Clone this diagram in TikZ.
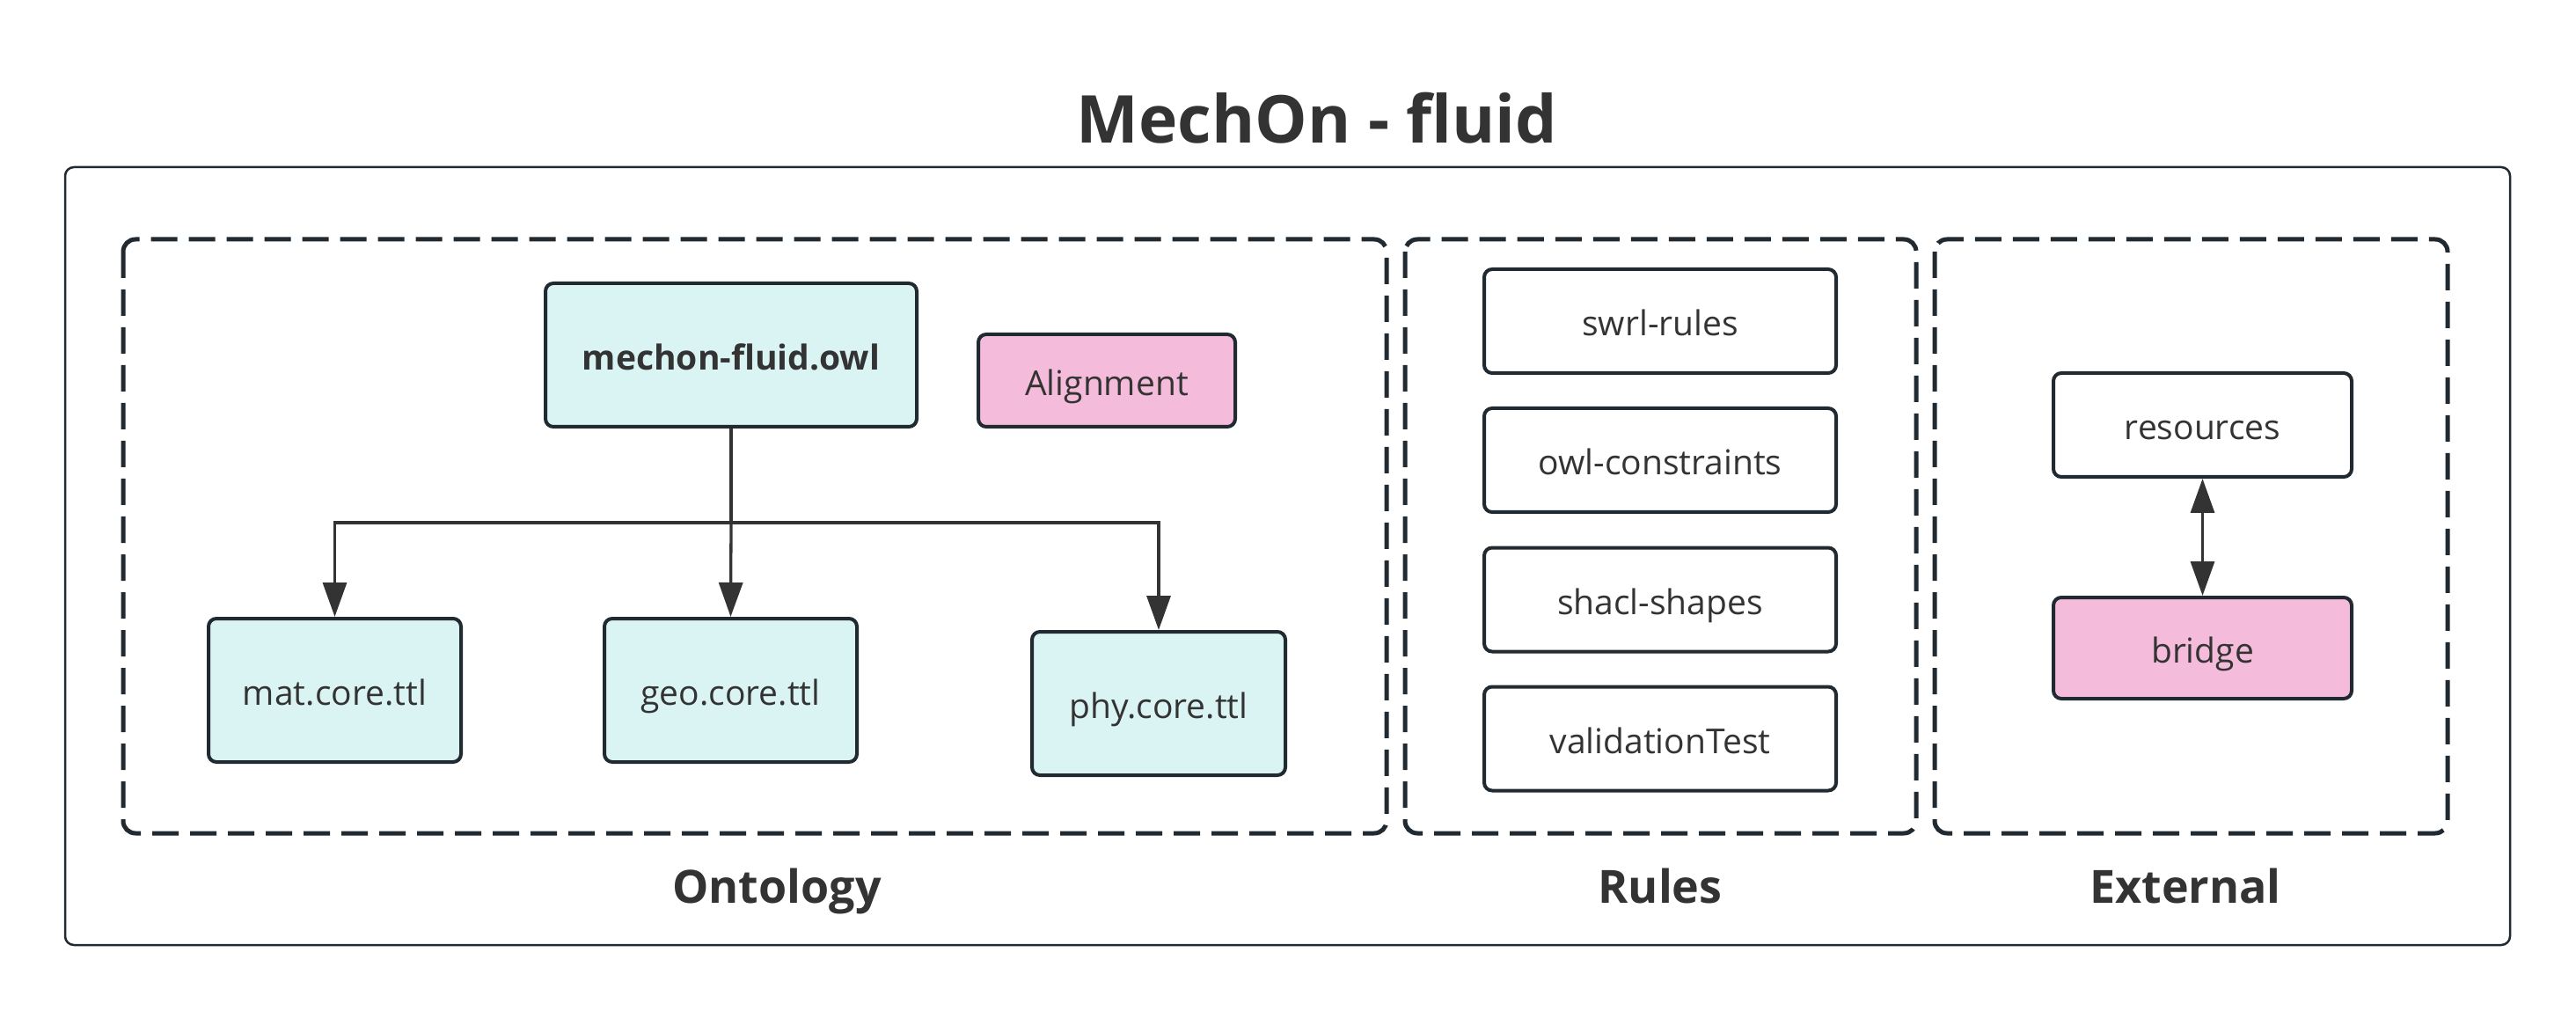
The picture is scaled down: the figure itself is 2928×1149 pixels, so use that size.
\documentclass[tikz,border=0pt]{standalone}
\usepackage{fontspec}
\setmainfont{Open Sans}
\usetikzlibrary{arrows.meta}
\definecolor{txt}{HTML}{333333}
\definecolor{bord}{HTML}{212A31}
\definecolor{cyanfill}{HTML}{DAF4F4}
\definecolor{pinkfill}{HTML}{F5BBDB}
\tikzset{
  filebox/.style={draw=bord, line width=2pt, rounded corners=4.5pt, fill=cyanfill,
    text=txt, font=\fontsize{19.5}{23}\selectfont, inner sep=0pt, anchor=center,
    text height=20pt, text depth=3pt},
  pinkbox/.style={filebox, fill=pinkfill},
  whitebox/.style={filebox, fill=white},
  groupbox/.style={draw=bord, line width=2.5pt, rounded corners=7pt,
    dash pattern=on 15pt off 6.5pt},
  grouplabel/.style={text=txt, font=\fontsize{26}{30}\selectfont\bfseries, anchor=base, inner sep=0pt},
  conn/.style={draw=txt, line width=1.65pt},
  tip/.style={-{Triangle[width=13.5pt, length=19.5pt]}},
  bitip/.style={{Triangle[width=13.5pt, length=19.5pt]}-{Triangle[width=13.5pt, length=19.5pt]}}
}
\begin{document}
\begin{tikzpicture}[x=0.5pt, y=-0.5pt]
\useasboundingbox[fill=white] (0,0) rectangle (2928,1149);
% title
\node[text=txt, font=\fontsize{37.5}{44}\selectfont\bfseries, anchor=base, inner sep=0pt] (title) at (1497,163) {MechOn - fluid};
% outer box
\draw[draw=bord, line width=1.25pt, rounded corners=5pt] (74,190) rectangle (2853,1074);
% groups
\draw[groupbox] (140,272) rectangle (1576,947);
\draw[groupbox] (1597,272) rectangle (2178,947);
\draw[groupbox] (2199,272) rectangle (2782,947);
\node[grouplabel] (lont) at (883,1026) {Ontology};
\node[grouplabel] (lrul) at (1887,1026) {Rules};
\node[grouplabel] (lext) at (2484,1026) {External};
% ontology nodes
\node[filebox, minimum width=211pt, minimum height=81.5pt, font=\fontsize{19.5}{23}\selectfont\bfseries] (mech) at (831,403.5) {mechon-fluid.owl};
\node[pinkbox, minimum width=146pt, minimum height=52.5pt] (align) at (1258,432.5) {Alignment};
\node[filebox, minimum width=143.5pt, minimum height=81.5pt] (mat) at (380.5,784.5) {mat.core.ttl};
\node[filebox, minimum width=143.5pt, minimum height=81.5pt] (geo) at (830.5,784.5) {geo.core.ttl};
\node[filebox, minimum width=144pt, minimum height=81.5pt] (phy) at (1317,799.5) {phy.core.ttl};
% rules nodes
\node[whitebox, minimum width=200pt, minimum height=59pt] (swrl) at (1887,365) {swrl-rules};
\node[whitebox, minimum width=200pt, minimum height=59pt] (owlc) at (1887,523) {owl-constraints};
\node[whitebox, minimum width=200pt, minimum height=59pt] (shacl) at (1887,681.5) {shacl-shapes};
\node[whitebox, minimum width=200pt, minimum height=59pt] (valid) at (1887,839.5) {validationTest};
% external nodes
\node[whitebox, minimum width=169.5pt, minimum height=59pt] (res) at (2503.5,483) {resources};
\node[pinkbox, minimum width=169.5pt, minimum height=57.5pt] (bridge) at (2503.5,736.5) {bridge};
% connectors
\coordinate (br) at (831,594);
\draw[conn] (mech.south) -- (br);
\draw[conn, tip] (br) -| (mat.north);
\draw[conn, tip] (br) -| (phy.north);
\draw[conn, tip] (br) -- (geo.north);
\draw[conn, bitip] (res.south) -- (bridge.north);
\end{tikzpicture}
\end{document}
